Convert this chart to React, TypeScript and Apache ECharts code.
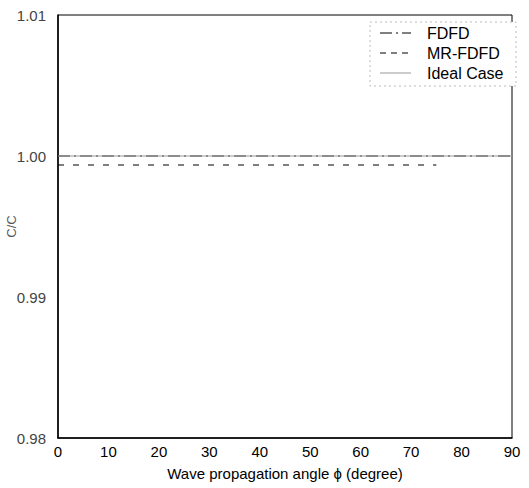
import React, { useEffect, useRef } from "react";
import * as echarts from "echarts";

const angles = [0, 5, 10, 15, 20, 25, 30, 35, 40, 45, 50, 55, 60, 65, 70, 75, 80, 85, 90];
const fdfd = [1.0, 1.0, 1.0, 1.0, 1.0, 1.0, 1.0, 1.0, 1.0, 1.0, 1.0, 1.0, 1.0, 1.0, 1.0, 1.0, 1.0, 1.0, 1.0];
const mrAngles = [0, 5, 10, 15, 20, 25, 30, 35, 40, 45, 50, 55, 60, 65, 70, 75];
const mrFdfd = [0.99936, 0.99936, 0.99936, 0.99936, 0.99936, 0.99936, 0.99936, 0.99936, 0.99936, 0.99936, 0.99936, 0.99936, 0.99936, 0.99936, 0.99936, 0.99936];
const ideal = [1.0, 1.0, 1.0, 1.0, 1.0, 1.0, 1.0, 1.0, 1.0, 1.0, 1.0, 1.0, 1.0, 1.0, 1.0, 1.0, 1.0, 1.0, 1.0];
const legendNames = ["FDFD", "MR-FDFD", "Ideal Case"];

export default function App() {
  const ref = useRef<HTMLDivElement>(null);
  useEffect(() => {
    const chart = echarts.init(ref.current!, undefined, { renderer: "svg" });
    const font = "Liberation Sans, Arial, sans-serif";
    const styles = [
      { stroke: "#000", lineWidth: 1, lineDash: [12, 4, 2, 4] },
      { stroke: "#000", lineWidth: 1.2, lineDash: [6, 5] },
      { stroke: "#999", lineWidth: 1 },
    ];
    const legendGraphics: any[] = [
      {
        type: "rect",
        shape: { x: 370, y: 22, width: 146, height: 64 },
        style: { fill: "#fff", stroke: "#bbb", lineWidth: 1, lineDash: [2, 3] },
        z: 10,
      },
    ];
    legendNames.forEach((n, i) => {
      const y = 33 + i * 20;
      legendGraphics.push({
        type: "line",
        shape: { x1: 380, y1: y, x2: 411, y2: y },
        style: styles[i],
        z: 11,
      });
      legendGraphics.push({
        type: "text",
        x: 427,
        y: y,
        style: { text: n, fontFamily: font, fontSize: 16, fill: "#000", verticalAlign: "middle" },
        z: 11,
      });
    });
    chart.setOption({
      animation: false,
      backgroundColor: "#fff",
      grid: {
        left: 58, right: 17, top: 15, bottom: 50,
        containLabel: false, outerBoundsMode: "none",
        show: true, borderColor: "#000", borderWidth: 1,
      },
      graphic: legendGraphics,
      xAxis: {
        type: "value",
        min: 0,
        max: 90,
        interval: 10,
        name: "Wave propagation angle \u03d5 (degree)",
        nameLocation: "middle",
        nameGap: 28,
        nameTextStyle: { fontFamily: font, fontSize: 15, color: "#000" },
        axisLine: { lineStyle: { color: "#000", width: 1.5 } },
        axisTick: { show: false },
        splitLine: { show: false },
        axisLabel: { fontFamily: font, fontSize: 15, color: "#000", margin: 6 },
      },
      yAxis: {
        type: "value",
        min: 0.98,
        max: 1.01,
        interval: 0.01,
        name: "C/C",
        nameLocation: "middle",
        nameGap: 40,
        nameMoveOverlap: false,
        nameTextStyle: { fontFamily: font, fontSize: 13, color: "#555" },
        axisLine: { show: true, lineStyle: { color: "#000", width: 1.5 } },
        axisTick: { show: false },
        splitLine: { show: false },
        axisLabel: { fontFamily: font, fontSize: 15, color: "#444", margin: 12, formatter: (v: number) => v.toFixed(2) },
      },
      series: [
        {
          name: "FDFD",
          type: "line",
          symbol: "none",
          data: angles.map((a, i) => [a, fdfd[i]]),
          lineStyle: { color: "#000", width: 1, type: [12, 4, 2, 4] },
        },
        {
          name: "MR-FDFD",
          type: "line",
          symbol: "none",
          data: mrAngles.map((a, i) => [a, mrFdfd[i]]),
          lineStyle: { color: "#000", width: 1.2, type: [6, 9] },
        },
        {
          name: "Ideal Case",
          type: "line",
          symbol: "none",
          data: angles.map((a, i) => [a, ideal[i]]),
          lineStyle: { color: "#999", width: 1, type: "solid" },
        },
      ],
    });
    return () => chart.dispose();
  }, []);
  return <div ref={ref} style={{ width: 529, height: 488, position: "absolute", left: 0, top: 0 }} />;
}
